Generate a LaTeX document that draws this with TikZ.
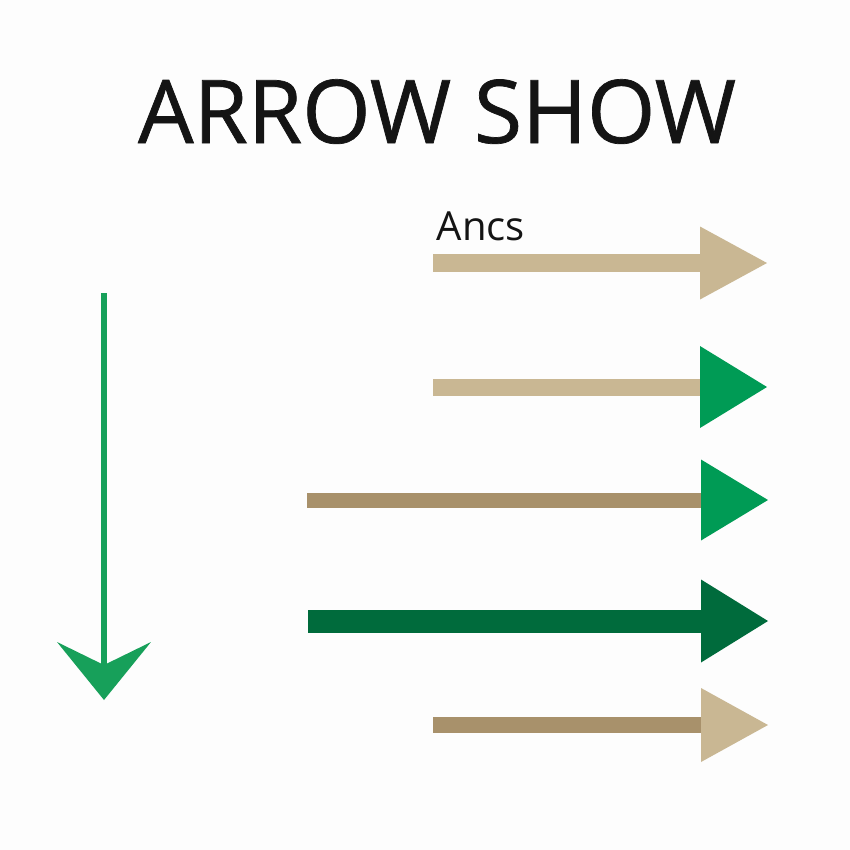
\documentclass[tikz,border=0pt]{standalone}
\usepackage{fontspec}
\setmainfont{Open Sans}
\usepackage{xcolor}
\usepackage{tikz}
\usetikzlibrary{arrows.meta}
\definecolor{bg}{HTML}{FDFDFD}
\definecolor{ink}{HTML}{141414}
\definecolor{tan}{HTML}{C9B793}
\definecolor{tandark}{HTML}{A8916B}
\definecolor{green}{HTML}{009B55}
\definecolor{greenv}{HTML}{17A05A}
\definecolor{greendark}{HTML}{006B3C}
\newfontfamily\titlefont[FakeBold=0.8]{Open Sans}
\tikzset{
  title/.style={text=ink, font=\titlefont\fontsize{25}{30}\selectfont, anchor=base, inner sep=0pt},
  lab/.style={text=ink, font=\fontsize{11.4}{13}\selectfont, anchor=base west, inner sep=0pt},
  shaft/.style={line width=#1, line cap=butt},
  head/.style 2 args={-{Triangle[length=6.7mm, width=#2, line width=0pt, color=#1]}},
  down/.style={draw=greenv, line width=0.6mm,
    -{Stealth[length=5.8mm, width=9.4mm, inset=2.3mm, line width=0pt]}},
}
\begin{document}
\begin{tikzpicture}[x=0.1mm, y=-0.1mm]
  \fill[bg] (0,0) rectangle (850,850);
  \useasboundingbox (0,0) rectangle (850,850);

  \node[title] (ttl) at (437,143) {ARROW SHOW};
  \node[lab] (ancs) at (436,240) {Ancs};

  % vertical arrow
  \coordinate (v0) at (104,293);
  \coordinate (v1) at (104,700);
  \draw[down] (v0) -- (v1);

  % horizontal arrows
  \coordinate (a0) at (433,263); \coordinate (a1) at (767,263);
  \coordinate (b0) at (433,387); \coordinate (b1) at (767,387);
  \coordinate (c0) at (307,500); \coordinate (c1) at (768,500);
  \coordinate (d0) at (308,621); \coordinate (d1) at (768,621);
  \coordinate (e0) at (433,725); \coordinate (e1) at (768,725);

  \draw[draw=tan, shaft=1.8mm, head={tan}{7.3mm}] (a0) -- (a1);
  \draw[draw=tan, shaft=1.7mm, head={green}{8.2mm}] (b0) -- (b1);
  \draw[draw=tandark, shaft=1.5mm, head={green}{8.1mm}] (c0) -- (c1);
  \draw[draw=greendark, shaft=2.3mm, head={greendark}{8.3mm}] (d0) -- (d1);
  \draw[draw=tandark, shaft=1.6mm, head={tan}{7.4mm}] (e0) -- (e1);
\end{tikzpicture}
\end{document}
